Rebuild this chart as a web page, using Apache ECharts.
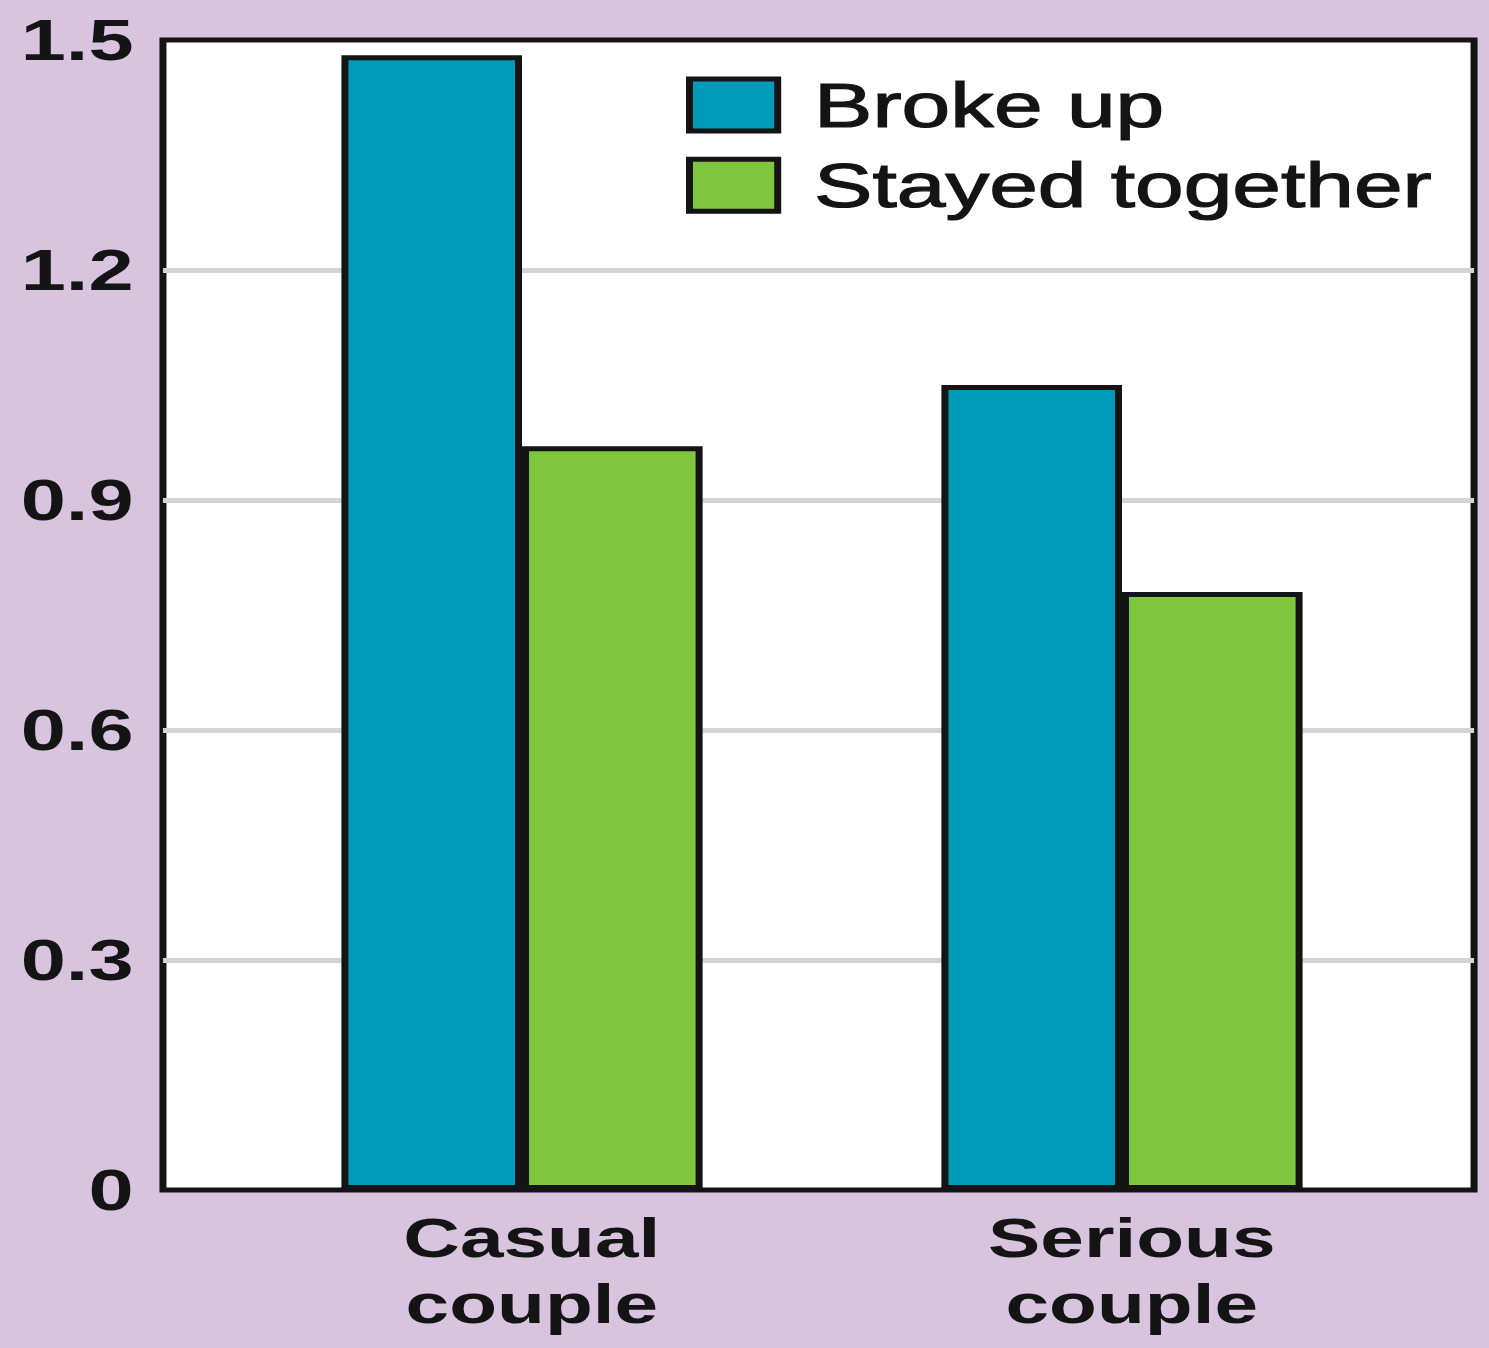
<!DOCTYPE html>
<html>
<head>
<meta charset="utf-8">
<script src="https://cdn.jsdelivr.net/npm/echarts@6/dist/echarts.min.js"></script>
<style>
  html, body { margin: 0; padding: 0; background: #d9c4e0; overflow: hidden; }
  /* The figure is laid out narrow and widened horizontally, giving its stretched lettering */
  #chart { width: 1064px; height: 1348px; transform: scaleX(1.4); transform-origin: 0 0; }
</style>
</head>
<body>
<div id="chart"></div>
<script>
// Couple types along the x axis
const categories = ['Casual\ncouple', 'Serious\ncouple'];
// Series
const seriesNames = ['Broke up', 'Stayed together'];
const brokeUp = [1.48, 1.05];
const stayedTogether = [0.97, 0.78];
// Value axis ticks
const yMin = 0;
const yMax = 1.5;
const yStep = 0.3;

const TEAL = '#009bba';
const GREEN = '#7ec63d';
const INK = '#141414';
const FONT = 'Liberation Sans, Arial, sans-serif';

const chart = echarts.init(document.getElementById('chart'), null, { renderer: 'svg' });

chart.setOption({
  backgroundColor: 'transparent',
  animation: false,
  legend: {
    orient: 'vertical',
    left: 490,
    top: 73,
    padding: 0,
    itemWidth: 63,
    itemHeight: 52,
    itemGap: 16,
    icon: 'rect',
    itemStyle: { borderColor: INK, borderWidth: 5 },
    textStyle: {
      fontFamily: FONT,
      fontSize: 62.5,
      color: INK,
      textBorderColor: INK,
      textBorderWidth: 1.2,
      padding: [0, 0, 0, 21]
    },
    data: seriesNames
  },
  grid: [
    // framed plot area with horizontal reference lines
    {
      left: 116.4, right: 11.1, top: 40, bottom: 158,
      show: true, backgroundColor: '#ffffff',
      borderColor: INK, borderWidth: 5
    },
    // bar area, centred on the two groups
    { left: 158.6, right: 48.3, top: 40, bottom: 158 }
  ],
  xAxis: [
    { gridIndex: 0, type: 'value', show: false, min: 0, max: 1 },
    {
      gridIndex: 1,
      type: 'category',
      data: categories,
      axisLine: { show: false },
      axisTick: { show: false },
      axisLabel: {
        fontFamily: FONT,
        fontWeight: 'bold',
        fontSize: 56,
        lineHeight: 66,
        color: INK,
        margin: 14,
        padding: [0, 0, 0, 14]
      }
    }
  ],
  yAxis: [
    {
      gridIndex: 0,
      type: 'value',
      min: yMin, max: yMax, interval: yStep,
      axisLine: { show: false },
      axisTick: { show: false },
      axisLabel: {
        fontFamily: FONT,
        fontWeight: 'bold',
        fontSize: 58,
        color: INK,
        margin: 21
      },
      splitLine: {
        show: true,
        showMinLine: false,
        showMaxLine: false,
        lineStyle: { color: '#d4d4d4', width: 5 }
      }
    },
    {
      gridIndex: 1,
      type: 'value',
      min: yMin, max: yMax, interval: yStep,
      show: false
    }
  ],
  series: [
    {
      name: seriesNames[0],
      type: 'bar',
      xAxisIndex: 1, yAxisIndex: 1,
      data: brokeUp,
      barWidth: 129,
      barGap: '0%',
      itemStyle: { color: TEAL, borderColor: INK, borderWidth: 5 }
    },
    {
      name: seriesNames[1],
      type: 'bar',
      xAxisIndex: 1, yAxisIndex: 1,
      data: stayedTogether,
      barWidth: 129,
      barGap: '0%',
      itemStyle: { color: GREEN, borderColor: INK, borderWidth: 5 }
    }
  ]
});
</script>
</body>
</html>
